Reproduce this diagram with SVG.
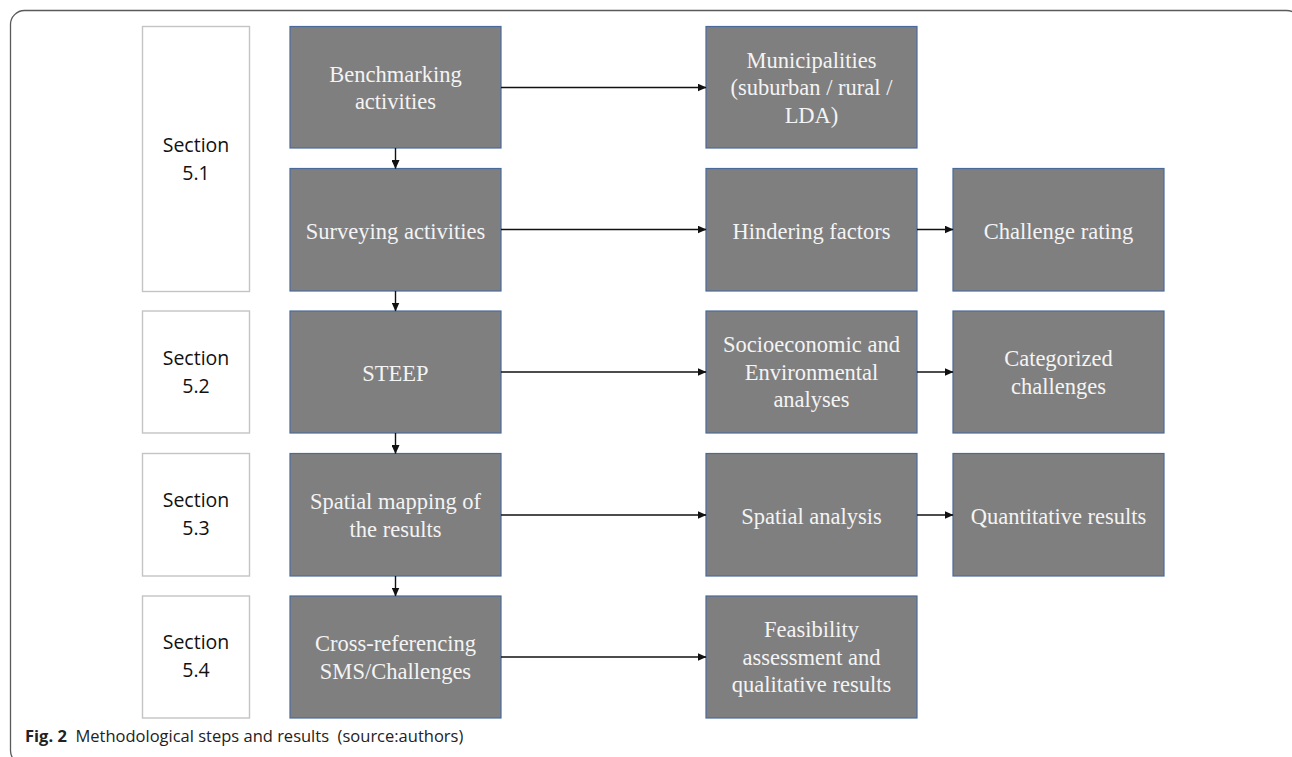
<svg xmlns="http://www.w3.org/2000/svg" width="1292" height="757" viewBox="0 0 1292 757">
<defs>
<style>
.frame{fill:none;stroke:#5a5a5a;stroke-width:1.3}
.sec{fill:#ffffff;stroke:#c4c4c4;stroke-width:1.4}
.box{fill:#7f7f7f;stroke:#4a6a99;stroke-width:1.2}
.st{font-family:"Open Sans","Liberation Sans",sans-serif;font-size:19.5px;fill:#111111;text-anchor:middle}
.bt{font-family:"Liberation Serif","DejaVu Serif",serif;font-size:22.5px;fill:#f4f4f4;text-anchor:middle}
.edge{fill:none;stroke:#111111;stroke-width:1.4}
.cap{font-family:"Open Sans","Liberation Sans",sans-serif;font-size:16.5px;fill:#222222}
</style>
<marker id="ah" markerWidth="9" markerHeight="8" refX="8.5" refY="4" orient="auto" markerUnits="userSpaceOnUse">
<path d="M0,0 L9,4 L0,8 Z" fill="#111111"/>
</marker>
</defs>
<rect width="1292" height="757" fill="#ffffff"/>
<rect class="frame" x="10.5" y="10.5" width="1290" height="754" rx="14" ry="14"/>

<g id="section51"><rect class="sec" x="142.5" y="26.5" width="107" height="265"/><text class="st" x="196" y="152">Section</text><text class="st" x="196" y="180">5.1</text></g>
<g id="section52"><rect class="sec" x="142.5" y="311" width="107" height="122"/><text class="st" x="196" y="365">Section</text><text class="st" x="196" y="393">5.2</text></g>
<g id="section53"><rect class="sec" x="142.5" y="453.5" width="107" height="122.5"/><text class="st" x="196" y="507">Section</text><text class="st" x="196" y="535">5.3</text></g>
<g id="section54"><rect class="sec" x="142.5" y="596" width="107" height="122"/><text class="st" x="196" y="649">Section</text><text class="st" x="196" y="677">5.4</text></g>

<g id="benchmarking"><rect class="box" x="290" y="26.5" width="211" height="121.5"/><text class="bt" x="395.5" y="81.5">Benchmarking</text><text class="bt" x="395.5" y="109.2">activities</text></g>
<g id="surveying"><rect class="box" x="290" y="168.5" width="211" height="122.5"/><text class="bt" x="395.5" y="238.5">Surveying activities</text></g>
<g id="steep"><rect class="box" x="290" y="311" width="211" height="122"/><text class="bt" x="395.5" y="380.5">STEEP</text></g>
<g id="spatialmapping"><rect class="box" x="290" y="453.5" width="211" height="122.5"/><text class="bt" x="395.5" y="509">Spatial mapping of</text><text class="bt" x="395.5" y="536.7">the results</text></g>
<g id="crossref"><rect class="box" x="290" y="596" width="211" height="122"/><text class="bt" x="395.5" y="651">Cross-referencing</text><text class="bt" x="395.5" y="678.7">SMS/Challenges</text></g>

<g id="municipalities"><rect class="box" x="706" y="26.5" width="211" height="121.5"/><text class="bt" x="811.5" y="67.5">Municipalities</text><text class="bt" x="811.5" y="95.2">(suburban / rural /</text><text class="bt" x="811.5" y="122.9">LDA)</text></g>
<g id="hindering"><rect class="box" x="706" y="168.5" width="211" height="122.5"/><text class="bt" x="811.5" y="238.5">Hindering factors</text></g>
<g id="socioeconomic"><rect class="box" x="706" y="311" width="211" height="122"/><text class="bt" x="811.5" y="352">Socioeconomic and</text><text class="bt" x="811.5" y="379.7">Environmental</text><text class="bt" x="811.5" y="407.4">analyses</text></g>
<g id="spatialanalysis"><rect class="box" x="706" y="453.5" width="211" height="122.5"/><text class="bt" x="811.5" y="523.5">Spatial analysis</text></g>
<g id="feasibility"><rect class="box" x="706" y="596" width="211" height="122"/><text class="bt" x="811.5" y="637">Feasibility</text><text class="bt" x="811.5" y="664.7">assessment and</text><text class="bt" x="811.5" y="692.4">qualitative results</text></g>

<g id="challengerating"><rect class="box" x="953" y="168.5" width="211" height="122.5"/><text class="bt" x="1058.5" y="238.5">Challenge rating</text></g>
<g id="categorized"><rect class="box" x="953" y="311" width="211" height="122"/><text class="bt" x="1058.5" y="366">Categorized</text><text class="bt" x="1058.5" y="393.7">challenges</text></g>
<g id="quantitative"><rect class="box" x="953" y="453.5" width="211" height="122.5"/><text class="bt" x="1058.5" y="523.5">Quantitative results</text></g>

<g id="connectors">
<line class="edge" x1="395.5" y1="148" x2="395.5" y2="168.5" marker-end="url(#ah)"/>
<line class="edge" x1="395.5" y1="291" x2="395.5" y2="311" marker-end="url(#ah)"/>
<line class="edge" x1="395.5" y1="433" x2="395.5" y2="453.5" marker-end="url(#ah)"/>
<line class="edge" x1="395.5" y1="576" x2="395.5" y2="596" marker-end="url(#ah)"/>
<line class="edge" x1="501" y1="87.5" x2="706" y2="87.5" marker-end="url(#ah)"/>
<line class="edge" x1="501" y1="229.5" x2="706" y2="229.5" marker-end="url(#ah)"/>
<line class="edge" x1="501" y1="372" x2="706" y2="372" marker-end="url(#ah)"/>
<line class="edge" x1="501" y1="515" x2="706" y2="515" marker-end="url(#ah)"/>
<line class="edge" x1="501" y1="657" x2="706" y2="657" marker-end="url(#ah)"/>
<line class="edge" x1="917" y1="229.5" x2="953" y2="229.5" marker-end="url(#ah)"/>
<line class="edge" x1="917" y1="372" x2="953" y2="372" marker-end="url(#ah)"/>
<line class="edge" x1="917" y1="515" x2="953" y2="515" marker-end="url(#ah)"/>
</g>

<g id="caption"><text class="cap" x="25" y="742" xml:space="preserve"><tspan font-weight="bold">Fig. 2</tspan>  Methodological steps and results  (source:authors)</text></g>
</svg>
